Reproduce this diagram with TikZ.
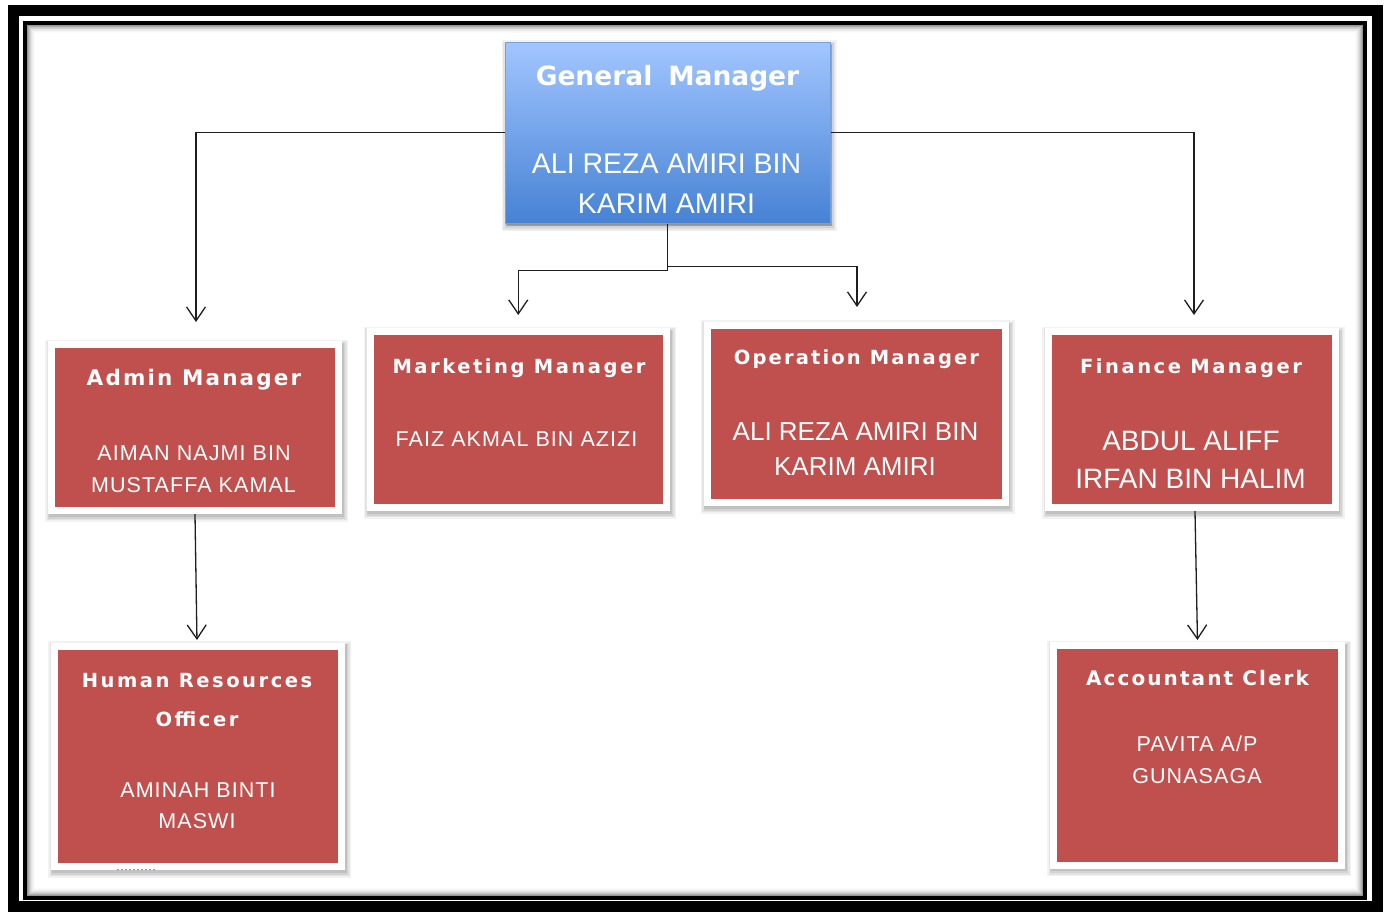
\documentclass[tikz,border=0pt]{standalone}
\usepackage{fontspec}
\setmainfont{Liberation Sans}
\newfontfamily\headfont{DejaVu Sans}
\usetikzlibrary{arrows.meta,shadows}

\definecolor{boxred}{HTML}{C0504D}
\definecolor{gmtop}{HTML}{A2C6FF}
\definecolor{gmbot}{HTML}{4682D4}
\definecolor{gmline}{HTML}{78A0D8}
\definecolor{linkcol}{HTML}{1E1E1E}

\tikzset{
  % soft shadow built from a few faint, widening outlines
  softshadow/.style={
    drop shadow={shadow xshift=1.5pt, shadow yshift=-3pt, opacity=.05, fill=black, draw=black, line width=#1+9pt},
    drop shadow={shadow xshift=1.5pt, shadow yshift=-3pt, opacity=.06, fill=black, draw=black, line width=#1+6pt},
    drop shadow={shadow xshift=1.5pt, shadow yshift=-3pt, opacity=.07, fill=black, draw=black, line width=#1+3pt},
    drop shadow={shadow xshift=1pt, shadow yshift=-2pt, opacity=.08, fill=black, draw=black, line width=#1+1pt}},
  redbox/.style={rectangle, draw=white, line width=7pt, fill=boxred, softshadow=7pt},
  gmbox/.style={rectangle, draw=gmline, line width=1pt, top color=gmtop,
      bottom color=gmbot, softshadow=1pt},
  title/.style={anchor=base, text=white, inner sep=0pt,
      font=\headfont\bfseries\fontsize{19.5}{22}\selectfont\addfontfeatures{LetterSpace=13}},
  bigtitle/.style={title,
      font=\headfont\bfseries\fontsize{21.5}{24}\selectfont\addfontfeatures{LetterSpace=10}},
  gmtitle/.style={anchor=base, text=white, inner sep=0pt,
      font=\headfont\bfseries\fontsize{26.5}{30}\selectfont},
  person/.style={anchor=base, text=white, inner sep=0pt,
      font=\fontsize{21.5}{24}\selectfont\addfontfeatures{LetterSpace=5}},
  bigperson/.style={anchor=base, text=white, inner sep=0pt, font=\fontsize{#1}{30}\selectfont},
  link/.style={draw=linkcol, line width=1.3pt, -{Straight Barb[length=14pt,width=19pt]}},
}

\begin{document}
\begin{tikzpicture}[x=1pt,y=-1pt]
\useasboundingbox (0,0) rectangle (1385,911);
\fill[white] (0,0) rectangle (1385,911);

% double page frame with a soft inner shade
\draw[line width=11pt] (13.5,10.5) rectangle (1377,906.5);
\draw[line width=4pt] (25,22.5) rectangle (1365,897.5);
\foreach \i/\c in {0/42,1/32,2/24,3/17,4/11,5/7,6/4,7/2}
  \draw[black!\c, line width=1pt] (27.5+\i,25+\i) rectangle (1362.5-\i,895-\i);

% boxes
\node[gmbox, minimum width=325pt, minimum height=181pt] (gm) at (667.5,132.5) {};
\node[redbox, minimum width=287pt, minimum height=166pt] (adm) at (195,427.5) {};
\node[redbox, minimum width=296.5pt, minimum height=176pt] (mkt) at (518.25,419.5) {};
\node[redbox, minimum width=298pt, minimum height=177.5pt] (ops) at (856,413.75) {};
\node[redbox, minimum width=286.5pt, minimum height=176pt] (fin) at (1191.75,419.5) {};
\node[redbox, minimum width=287pt, minimum height=220.5pt] (hr) at (198,756.25) {};
\node[redbox, minimum width=288pt, minimum height=219.5pt] (acc) at (1197.5,755.25) {};

% texts
\node[gmtitle] (gmT) at (667.5,85) {General\hspace{.6em}Manager};
\node[bigperson=28.5] (gmN1) at (666.5,173) {ALI REZA AMIRI BIN};
\node[bigperson=28.5] (gmN2) at (666.5,213) {KARIM AMIRI};

\node[bigtitle] (admT) at (194,385) {Admin Manager};
\node[person] (admN1) at (194,460) {AIMAN NAJMI BIN};
\node[person] (admN2) at (193.5,492) {MUSTAFFA KAMAL};

\node[title] (mktT) at (519,373) {Marketing Manager};
\node[person] (mktN1) at (516.5,446) {FAIZ AKMAL BIN AZIZI};

\node[title, font=\headfont\bfseries\fontsize{19.5}{22}\selectfont\addfontfeatures{LetterSpace=11}] (opsT) at (856.5,364) {Operation Manager};
\node[bigperson=26] (opsN1) at (855.5,440) {ALI REZA AMIRI BIN};
\node[bigperson=26] (opsN2) at (855,475) {KARIM AMIRI};

\node[title] (finT) at (1191,373) {Finance Manager};
\node[bigperson=28] (finN1) at (1191,450) {ABDUL ALIFF};
\node[bigperson=28] (finN2) at (1190.5,488) {IRFAN BIN HALIM};

\node[title] (hrT1) at (197,687) {Human Resources};
\node[title] (hrT2) at (197,726) {Officer};
\node[person] (hrN1) at (198,797) {AMINAH BINTI};
\node[person] (hrN2) at (197,828) {MASWI};

\node[title, font=\headfont\bfseries\fontsize{20}{22}\selectfont\addfontfeatures{LetterSpace=10.5}] (accT) at (1197.5,685) {Accountant Clerk};
\node[person] (accN1) at (1197,751) {PAVITA A/P};
\node[person] (accN2) at (1197,783) {GUNASAGA};

% small marks under the officer box
\draw[boxred!75, line width=1.3pt, dash pattern=on 2pt off 2pt] (117,869.5) -- (155,869.5);

% reporting lines
\draw[link, shorten >=19pt] (gm.west) -| ([xshift=1pt]adm.north);
\draw[link, shorten >=13pt] (gm.east) -| ([xshift=2.25pt]fin.north);
\draw[link, shorten >=13pt] (gm.south) -- ++(0,47) -| (mkt.north);
\draw[link, shorten >=14.5pt] (gm.south) -- ++(0,43) -| ([xshift=1pt]ops.north);
\draw[link, shorten >=2.5pt] (adm.south) -- ([xshift=-1pt]hr.north);
\draw[link, shorten >=2pt] ([xshift=3.25pt]fin.south) -- (acc.north);
\end{tikzpicture}
\end{document}
